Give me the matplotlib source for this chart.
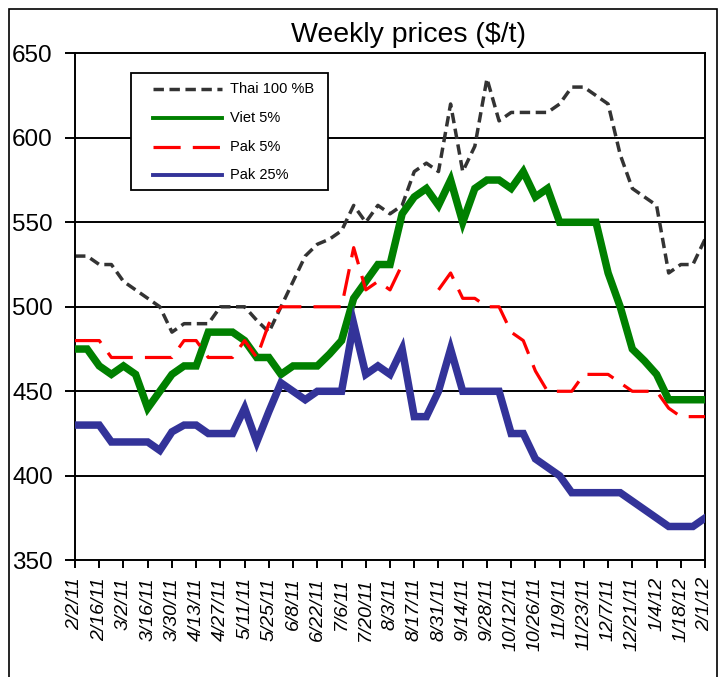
import numpy as np
import matplotlib
matplotlib.use('Agg')
import matplotlib.pyplot as plt
from matplotlib.lines import Line2D
from matplotlib.patches import Rectangle

plt.rcParams['font.family'] = ['Liberation Sans', 'DejaVu Sans']

# weekly prices, 2/2/11 .. 2/1/12 (53 weeks)
nan = np.nan
thai = [530, 530, 525, 525, 515, 510, 505, 500, 485, 490,
        490, 490, 500, 500, 500, 492, 485, 500, 515, 530,
        537, 540, 545, 560, 550, 560, 555, 560, 580, 585,
        580, 620, 580, 595, 635, 610, 615, 615, 615, 615,
        620, 630, 630, 625, 620, 590, 570, 565, 560, 520,
        525, 525, 540]
viet = [475, 475, 465, 460, 465, 460, 440, 450, 460, 465,
        465, 485, 485, 485, 480, 470, 470, 460, 465, 465,
        465, 472, 480, 505, 515, 525, 525, 555, 565, 570,
        560, 575, 550, 570, 575, 575, 570, 580, 565, 570,
        550, 550, 550, 550, 520, 500, 475, 468, 460, 445,
        445, 445, 445]
pak5 = [480, 480, 480, 470, 470, 470, 470, 470, 470, 480,
        480, 470, 470, 470, 480, 470, 490, 500, 500, 500,
        500, 500, 500, 535, 510, 515, 510, 525, nan, nan,
        510, 520, 505, 505, 500, 500, 485, 480, 462, 450,
        450, 450, 460, 460, 460, 455, 450, 450, 450, 440,
        435, 435, 435]
pak25 = [430, 430, 430, 420, 420, 420, 420, 415, 426, 430,
         430, 425, 425, 425, 440, 420, 438, 455, 450, 445,
         450, 450, 450, 490, 460, 465, 460, 475, 435, 435,
         450, 475, 450, 450, 450, 450, 425, 425, 410, 405,
         400, 390, 390, 390, 390, 390, 385, 380, 375, 370,
         370, 370, 375]

tick_labels = ['2/2/11', '2/16/11', '3/2/11', '3/16/11', '3/30/11', '4/13/11',
               '4/27/11', '5/11/11', '5/25/11', '6/8/11', '6/22/11', '7/6/11',
               '7/20/11', '8/3/11', '8/17/11', '8/31/11', '9/14/11', '9/28/11',
               '10/12/11', '10/26/11', '11/9/11', '11/23/11', '12/7/11',
               '12/21/11', '1/4/12', '1/18/12', '2/1/12']

weeks = np.arange(len(thai))

fig = plt.figure(figsize=(7.2, 6.77), dpi=100)
ax = fig.add_axes([0.1042, 0.1724, 0.875, 0.7489])

# horizontal grid
for v in range(400, 650, 50):
    ax.axhline(v, color='black', lw=1.4, zorder=1)

thai_style = dict(color='#333333', lw=2.5, dashes=(3, 1.6))
pak5_style = dict(color='#ff0000', lw=2.3, dashes=(8.5, 3.8))

ax.plot(weeks, thai, zorder=2, **thai_style)
ax.plot(weeks, viet, color='#008000', lw=5.4, solid_joinstyle='miter', zorder=3)
ax.plot(weeks, pak5, zorder=4, **pak5_style)
ax.plot(weeks, pak25, color='#333399', lw=5.4, solid_joinstyle='miter', zorder=5)

ax.set_xlim(0, len(thai) - 1)
ax.set_ylim(350, 650)
ax.set_yticks(range(350, 651, 50))
ax.set_xticks(weeks[::2])
ax.set_xticklabels(tick_labels, rotation=90, fontsize=14, style='italic',
                   va='top')
ax.tick_params(axis='y', labelsize=17.5, length=7, width=1.4, pad=9,
               direction='out')
ax.tick_params(axis='x', length=6, width=1.4, pad=6, direction='out')
for s in ax.spines.values():
    s.set_linewidth(1.4)
    s.set_color('black')

fig.text(0.567, 0.948, 'Weekly prices ($/t)', fontsize=20.5, ha='center',
         va='center')

# legend box
ax.add_patch(Rectangle((0.089, 0.730), 0.3126, 0.2306, transform=ax.transAxes,
                       facecolor='white', edgecolor='black', lw=1.3,
                       zorder=6))
leg_names = ['Thai 100 %B', 'Viet 5%', 'Pak 5%', 'Pak 25%']
leg_styles = [thai_style,
              dict(color='#008000', lw=2.8),
              pak5_style,
              dict(color='#333399', lw=2.8)]
leg_y = [0.9296, 0.8724, 0.8152, 0.7600]
for name, st, yy in zip(leg_names, leg_styles, leg_y):
    ax.add_line(Line2D([0.1238, 0.2333], [yy, yy], transform=ax.transAxes,
                       zorder=7, **st))
    ax.text(0.246, yy, name, transform=ax.transAxes, fontsize=10.5,
            va='center', ha='left', zorder=7)

# outer frame
fig.add_artist(Rectangle((0.0125, -0.01), 0.983, 0.9967,
                         transform=fig.transFigure, fill=False,
                         edgecolor='black', lw=1.2))

fig.savefig('out.png', dpi=100)
